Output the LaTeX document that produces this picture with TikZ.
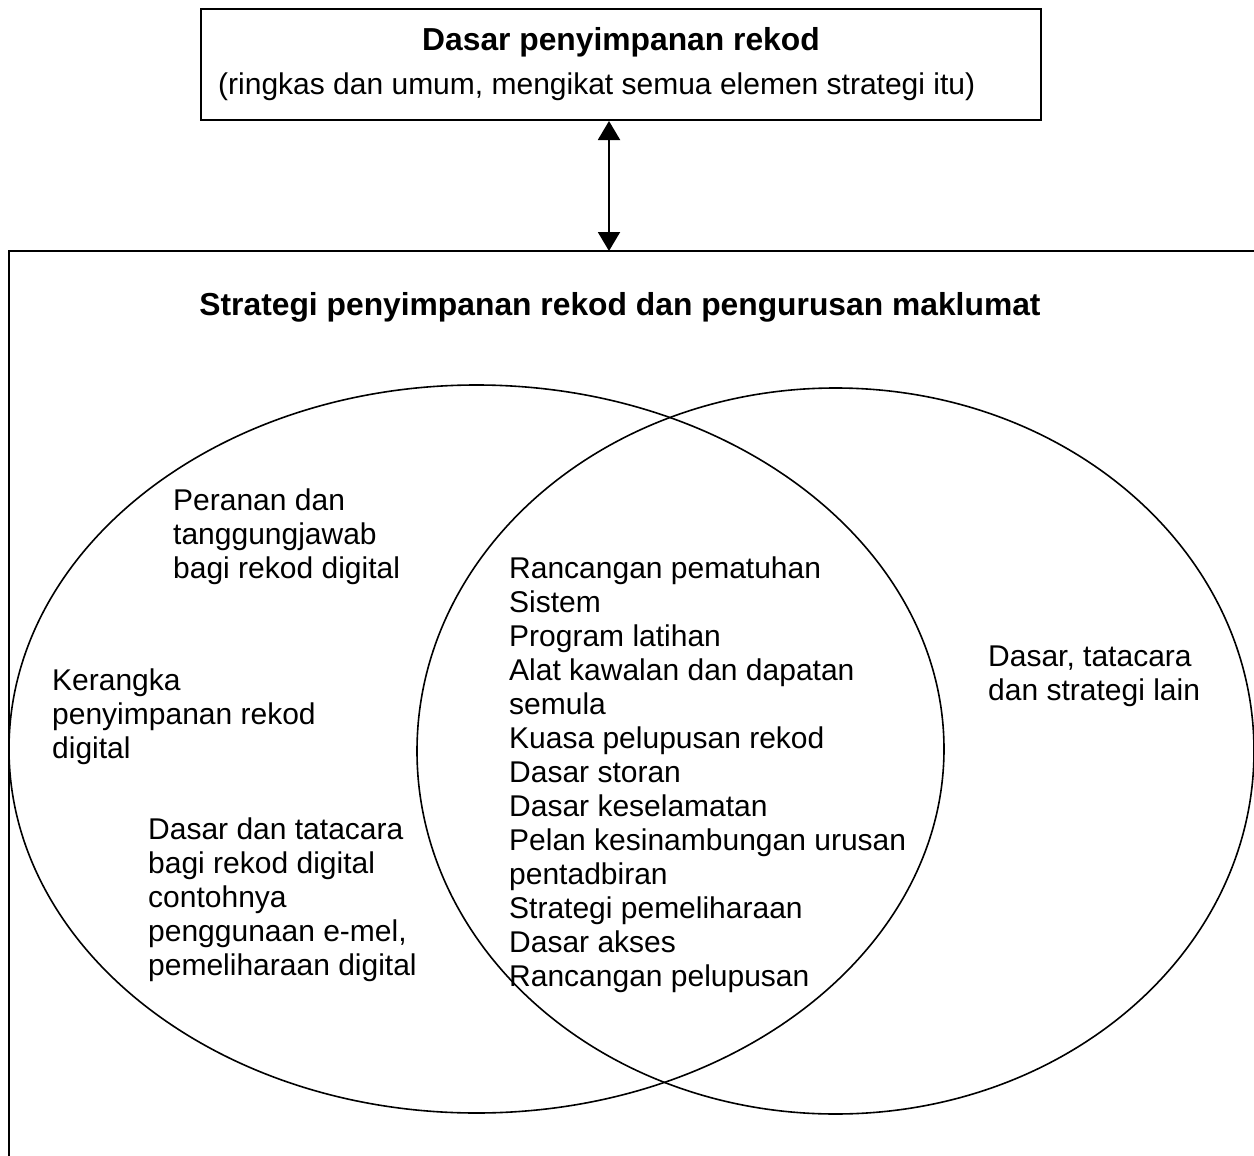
\documentclass[tikz,border=0pt]{standalone}
\usepackage{fontspec}
\setmainfont{Liberation Sans}
\usetikzlibrary{positioning, arrows.meta}

\tikzset{
  kotak/.style={draw, line width=2pt, inner sep=0pt},
  bulatan/.style={line width=1.6pt},
  teks/.style={inner sep=0pt, align=left, anchor=north west, font=\fontsize{30}{34}\selectfont},
  judul/.style={inner sep=0pt, font=\fontsize{31.8}{36}\selectfont\bfseries},
  anakpanah/.style={line width=2pt, {Triangle[length=19pt,width=22pt]}-{Triangle[length=19pt,width=22pt]}},
}

\begin{document}
\begin{tikzpicture}[x=1pt, y=-1pt]
  \useasboundingbox (0,0) rectangle (1254,1156);
  % kotak dasar
  \node[kotak, minimum width=840pt, minimum height=111pt, anchor=north west] (dasar) at (200,8) {};
  \node[judul] (dasarjudul) at (621,42) {Dasar penyimpanan rekod};
  \node[teks, anchor=west] (dasarsub) at (218,87) {(ringkas dan umum, mengikat semua elemen strategi itu)};
  % kotak strategi, terpotong di kanan dan bawah
  \draw[line width=2pt] (1262,251) -- (9,251) -- (9,1162);
  \coordinate (atas) at (609,251);
  \draw[anakpanah] (dasar.south -| atas) -- (atas);
  \node[judul] (strategijudul) at (620,307) {Strategi penyimpanan rekod dan pengurusan maklumat};
  % gambarajah venn
  \draw[bulatan] (476.5,749) ellipse [x radius=467.5pt, y radius=364pt];
  \draw[bulatan] (835.5,751) ellipse [x radius=418.5pt, y radius=363pt];
  \node[teks] (peranan) at (173,489) {Peranan dan\\tanggungjawab\\bagi rekod digital};
  \node[teks] (kerangka) at (52,669) {Kerangka\\penyimpanan rekod\\digital};
  \node[teks] (dasardigital) at (148,818) {Dasar dan tatacara\\bagi rekod digital\\contohnya\\penggunaan e-mel,\\pemeliharaan digital};
  \node[teks] (senarai) at (509,557) {Rancangan pematuhan\\Sistem\\Program latihan\\Alat kawalan dan dapatan\\semula\\Kuasa pelupusan rekod\\Dasar storan\\Dasar keselamatan\\Pelan kesinambungan urusan\\pentadbiran\\Strategi pemeliharaan\\Dasar akses\\Rancangan pelupusan};
  \node[teks] (lain) at (988,646) {Dasar, tatacara\\dan strategi lain};
\end{tikzpicture}
\end{document}
